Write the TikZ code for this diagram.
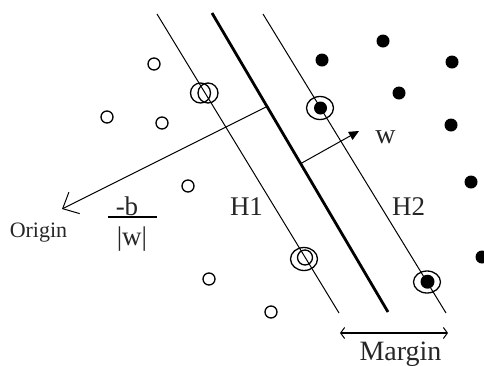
\documentclass[tikz,border=0pt]{standalone}
\usepackage{fontspec}
\setmainfont{Liberation Serif}
\usetikzlibrary{arrows.meta,shapes.geometric}
\begin{document}
\begin{tikzpicture}[x=1pt,y=-1pt,
  opendot/.style={circle,draw,line width=1.3pt,minimum size=12pt,inner sep=0pt},
  fulldot/.style={circle,fill,minimum size=13pt,inner sep=0pt},
  ring/.style={ellipse,draw,line width=1.3pt,minimum width=27pt,minimum height=23pt,inner sep=0pt},
  thinline/.style={line width=1pt},
  thickline/.style={line width=2.8pt},
  lbl/.style={inner sep=0pt,anchor=base,text=black!85,font=\fontsize{27}{30}\selectfont}]
\useasboundingbox (0,0) rectangle (484,365);
% hyperplanes
\coordinate (h1a) at (157,14);  \coordinate (h1b) at (339,313);
\coordinate (ma)  at (212,13);  \coordinate (mb)  at (388,312);
\coordinate (h2a) at (263,14);  \coordinate (h2b) at (446,313);
\draw[thinline] (h1a) -- (h1b);
\draw[thickline] (ma) -- (mb);
\draw[thinline] (h2a) -- (h2b);
% origin arrow
\coordinate (ostart) at (266,107);
\coordinate (otip) at (62,209);
\draw[thinline,-{Straight Barb[length=13pt,width=24pt,line width=1pt]}] (ostart) -- (otip);
% w arrow
\coordinate (w0) at (300,164);
\coordinate (w1) at (359,131);
\draw[thinline,-{Triangle[length=10pt,width=9pt]}] (w0) -- (w1);
% margin arrow
\coordinate (m0) at (340,333);
\coordinate (m1) at (448,333);
\draw[line width=1.5pt,{Straight Barb[length=4pt,width=11pt,line width=1pt]}-{Straight Barb[length=4pt,width=11pt,line width=1pt]}] (m0) -- (m1);
% open points
\node[opendot] (o1) at (154,64) {};
\node[opendot] (o2) at (107,117) {};
\node[opendot] (o3) at (162,123) {};
\node[opendot] (o4) at (188,186) {};
\node[opendot] (o5) at (209,279) {};
\node[opendot] (o6) at (271,312) {};
% filled points
\node[fulldot] (f1) at (322,60) {};
\node[fulldot] (f2) at (383,41) {};
\node[fulldot] (f3) at (452,62) {};
\node[fulldot] (f4) at (399,93) {};
\node[fulldot] (f5) at (451,125) {};
\node[fulldot] (f6) at (471,182) {};
\node[fulldot] (f7) at (482,257) {};
% support vectors on H1
\node[circle,draw,line width=1.3pt,minimum size=20pt,inner sep=0pt] (s1a) at (200.5,93) {};
\node[circle,draw,line width=1.3pt,minimum size=20pt,inner sep=0pt] (s1b) at (208,93) {};
\node[ring] (s2r) at (304,259) {};
\node[circle,draw,line width=1.3pt,minimum size=15pt,inner sep=0pt] (s2) at (305,257.5) {};
% support vectors on H2
\node[ring] (s3r) at (320,108) {};
\node[fulldot] (s3) at (320.5,108) {};
\node[ring,minimum height=22pt] (s4r) at (427,282) {};
\node[fulldot,minimum size=14pt] (s4) at (427.5,281.7) {};
% labels
\node[lbl,font=\fontsize{22}{24}\selectfont] (origin) at (38.5,237) {Origin};
\node[lbl] (negb) at (127,215) {-b};
\coordinate (fb0) at (108,217); \coordinate (fb1) at (157,217);
\draw[line width=1.5pt] (fb0) -- (fb1);
\node[lbl] (normw) at (132,245) {|w|};
\node[lbl] (H1) at (246.5,215) {H1};
\node[lbl] (H2) at (408.5,215) {H2};
\node[lbl,font=\fontsize{28}{30}\selectfont] (wlbl) at (385.5,143) {w};
\node[lbl,font=\fontsize{28}{30}\selectfont] (margin) at (400.5,360) {Margin};
\end{tikzpicture}
\end{document}
